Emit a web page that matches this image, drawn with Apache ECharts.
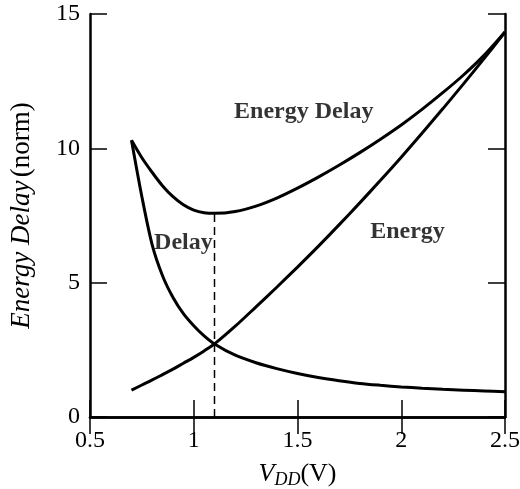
<!DOCTYPE html>
<html lang="en">
<head>
    <meta charset="UTF-8">
    <title>Energy Delay</title>
    <style>
        html, body { margin: 0; padding: 0; background: #fff; }
        #app { width: 520px; height: 489px; }
    </style>
</head>
<body>
    <div id="app"></div>
</body>
<script src="https://cdn.jsdelivr.net/npm/echarts@6/dist/echarts.min.js"></script>
<script>
    var vdd = [0.7, 0.75, 0.8, 0.85, 0.9, 0.95, 1.0, 1.05, 1.1, 1.2, 1.3, 1.4, 1.5, 1.6, 1.7, 1.8, 1.9, 2.0, 2.1, 2.2, 2.3, 2.4, 2.5];
    var energy = [1.0, 1.19, 1.38, 1.58, 1.78, 2.0, 2.22, 2.46, 2.72, 3.38, 4.1, 4.83, 5.58, 6.35, 7.15, 7.97, 8.81, 9.67, 10.56, 11.47, 12.4, 13.35, 14.33];
    var delay = [10.3, 8.2, 6.4, 5.25, 4.45, 3.85, 3.4, 3.02, 2.72, 2.3, 2.02, 1.8, 1.62, 1.47, 1.35, 1.25, 1.18, 1.12, 1.07, 1.03, 1.0, 0.97, 0.94];
    var energyDelay = [10.3, 9.65, 9.1, 8.6, 8.2, 7.9, 7.7, 7.6, 7.58, 7.65, 7.85, 8.15, 8.52, 8.93, 9.37, 9.84, 10.34, 10.87, 11.45, 12.07, 12.73, 13.47, 14.33];
    var optV = 1.1;
    var optED = 7.58;

    function pairs(ys) {
        return vdd.map(function (v, i) { return [v, ys[i]]; });
    }

    var serif = '"Liberation Serif", "DejaVu Serif", serif';
    var chart = echarts.init(document.getElementById('app'));

    function curve(name, ys) {
        return {
            name: name,
            type: 'line',
            data: pairs(ys),
            smooth: 0.3,
            showSymbol: false,
            lineStyle: { color: '#000', width: 3 },
            silent: true
        };
    }

    var axisLine = { show: true, lineStyle: { color: '#000', width: 2.5 } };
    var axisTick = { show: true, inside: true, length: 17, lineStyle: { color: '#000', width: 1.5 } };

    var option = {
        backgroundColor: '#fff',
        animation: false,
        grid: { left: 90, right: 15, top: 14, bottom: 72, containLabel: false, outerBoundsMode: 'none' },
        xAxis: [{
            type: 'value', min: 0.5, max: 2.5, interval: 0.5, position: 'bottom',
            name: '{v|V}{s|DD}{n|(V)}', nameLocation: 'middle', nameGap: 42,
            nameTextStyle: {
                rich: {
                    v: { fontFamily: serif, fontStyle: 'italic', fontSize: 26, color: '#000' },
                    s: { fontFamily: serif, fontStyle: 'italic', fontSize: 18, color: '#000', padding: [12, 0, 0, 0] },
                    n: { fontFamily: serif, fontSize: 26, color: '#000' }
                }
            },
            axisLine: axisLine, axisTick: axisTick, splitLine: { show: false },
            axisLabel: { color: '#000', fontFamily: serif, fontSize: 24, margin: 12 }
        }, {
            type: 'value', min: 0.5, max: 2.5, interval: 0.5, position: 'top',
            axisLine: axisLine, axisTick: axisTick, splitLine: { show: false },
            axisLabel: { show: false }
        }],
        yAxis: [{
            type: 'value', min: 0, max: 15, interval: 5, position: 'left',
            name: '{i|Energy Delay} {n|(norm)}', nameLocation: 'middle', nameGap: 55, nameRotate: 90,
            nameTextStyle: {
                rich: {
                    i: { fontFamily: serif, fontStyle: 'italic', fontSize: 27, color: '#000' },
                    n: { fontFamily: serif, fontSize: 27, color: '#000' }
                }
            },
            axisLine: axisLine, axisTick: axisTick, splitLine: { show: false },
            axisLabel: { color: '#000', fontFamily: serif, fontSize: 24, margin: 10 }
        }, {
            type: 'value', min: 0, max: 15, interval: 5, position: 'right',
            axisLine: axisLine, axisTick: axisTick, splitLine: { show: false },
            axisLabel: { show: false }
        }],
        series: [
            curve('Energy', energy),
            curve('Delay', delay),
            curve('Energy Delay', energyDelay),
            {
                name: 'optimum',
                type: 'line',
                data: [[optV, 0], [optV, optED]],
                showSymbol: false,
                lineStyle: { color: '#000', width: 1.5, type: [8, 5] },
                silent: true
            },
            {
                type: 'scatter',
                symbolSize: 0,
                silent: true,
                data: [
                    { value: [1.53, 11.35], label: { formatter: 'Energy Delay' } },
                    { value: [2.03, 6.88], label: { formatter: 'Energy' } },
                    { value: [0.95, 6.48], label: { formatter: 'Delay' } }
                ],
                label: {
                    show: true, position: [0, 0], align: 'center', verticalAlign: 'middle',
                    color: '#000', textBorderWidth: 0,
                    fontFamily: serif, fontSize: 24, fontWeight: 'bold'
                }
            }
        ]
    };
    chart.setOption(option);
</script>
</html>
